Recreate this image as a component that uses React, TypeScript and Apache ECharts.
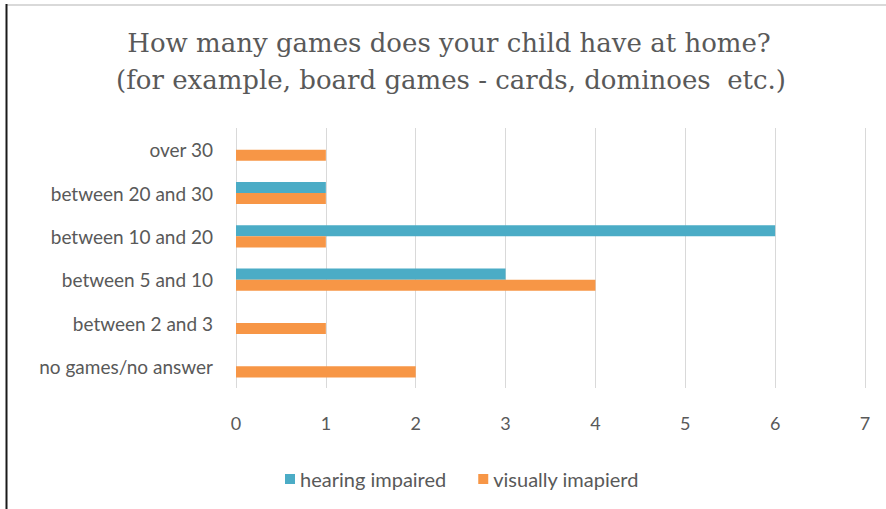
import React, { useEffect, useRef } from "react";
import * as echarts from "echarts";

const titleLines = [
  "How many games does your child have at home?",
  "(for example, board games - cards, dominoes  etc.)",
];
const categories = [
  "over 30",
  "between 20 and 30",
  "between 10 and 20",
  "between 5 and 10",
  "between 2 and 3",
  "no games/no answer",
];
const hearingImpaired = [0, 1, 6, 3, 0, 0];
const visuallyImpaired = [1, 1, 1, 4, 1, 2];
const seriesNames = ["hearing impaired", "visually imapierd"];
const xMin = 0;
const xMax = 7;
const xInterval = 1;

const labelFont = "Lato, 'Liberation Sans', sans-serif";
const textColor = "#595959";

export default function App() {
  const ref = useRef<HTMLDivElement>(null);
  useEffect(() => {
    if (!ref.current) return;
    const chart = echarts.init(ref.current, undefined, { renderer: "svg" });
    chart.setOption({
      animation: false,
      backgroundColor: "#ffffff",
      legend: {
        left: 280,
        top: 464,
        icon: "rect",
        itemWidth: 10,
        itemHeight: 10,
        itemGap: 32,
        textStyle: { fontFamily: labelFont, fontSize: 20, color: textColor },
        data: seriesNames,
      },
      grid: { left: 236, right: 21, top: 128, bottom: 121, containLabel: false },
      xAxis: {
        type: "value",
        min: xMin,
        max: xMax,
        interval: xInterval,
        axisLine: { show: false },
        axisTick: { show: false },
        splitLine: { lineStyle: { color: "#d9d9d9", width: 1 } },
        axisLabel: { fontFamily: labelFont, fontSize: 18, color: textColor, margin: 26 },
      },
      yAxis: {
        type: "category",
        data: categories,
        inverse: true,
        axisLine: { show: false },
        axisTick: { show: false },
        axisLabel: { fontFamily: labelFont, fontSize: 19, color: textColor, margin: 23 },
      },
      graphic: [
        { type: "line", shape: { x1: 6, y1: 5, x2: 886, y2: 5 }, style: { stroke: "#d9d9d9", lineWidth: 2 } },
        { type: "line", shape: { x1: 6.5, y1: 4, x2: 6.5, y2: 509 }, style: { stroke: "#1a1a1a", lineWidth: 2 } },
        {
          type: "text",
          x: 449,
          y: 43,
          style: {
            text: titleLines[0],
            fontFamily: "'DejaVu Serif', serif",
            fontSize: 26,
            fill: textColor,
            align: "center",
            verticalAlign: "middle",
          },
        },
        {
          type: "text",
          x: 451,
          y: 80,
          style: {
            text: titleLines[1],
            fontFamily: "'DejaVu Serif', serif",
            fontSize: 26,
            fill: textColor,
            align: "center",
            verticalAlign: "middle",
          },
        },
      ],
      series: [
        {
          name: seriesNames[0],
          type: "bar",
          data: hearingImpaired,
          itemStyle: { color: "#4bacc6" },
          barGap: "0%",
          barCategoryGap: "49%",
        },
        {
          name: seriesNames[1],
          type: "bar",
          data: visuallyImpaired,
          itemStyle: { color: "#f79646" },
          barGap: "0%",
          barCategoryGap: "49%",
        },
      ],
    });
    return () => chart.dispose();
  }, []);
  return <div ref={ref} style={{ width: 886, height: 509, position: "absolute", left: 0, top: 0 }} />;
}
